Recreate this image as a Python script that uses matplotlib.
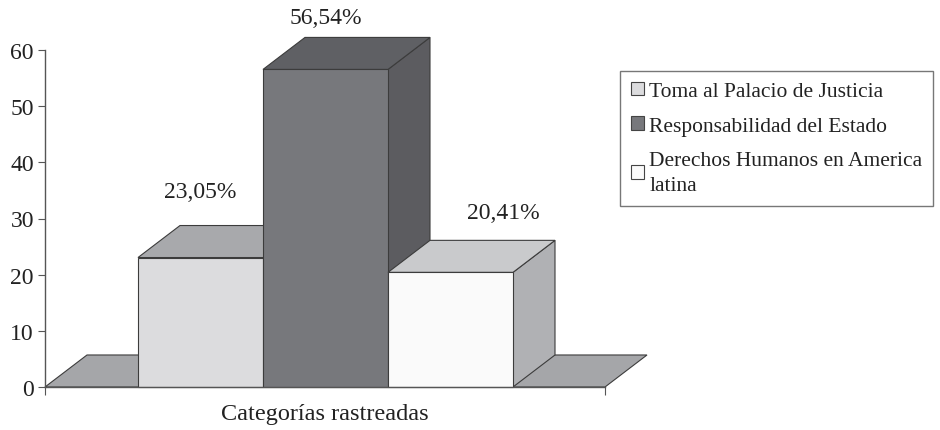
import matplotlib.pyplot as plt
from matplotlib.patches import Polygon, Patch

categories = ['Toma al Palacio de Justicia', 'Responsabilidad del Estado',
              'Derechos Humanos en America\nlatina']
values = [23.05, 56.54, 20.41]
value_labels = ['23,05%', '56,54%', '20,41%']
yticks = [0, 10, 20, 30, 40, 50, 60]

front_cols = ['#dcdcde', '#77787c', '#fafafa']
top_cols = ['#a8a9ac', '#5f6064', '#c9cacc']
side_cols = ['#a8a9ac', '#5c5c60', '#b0b1b4']
edge = '#3c3c3c'

plt.rcParams['font.family'] = ['Liberation Serif', 'DejaVu Serif']

fig = plt.figure(figsize=(9.4, 4.31), dpi=100)
ax = fig.add_axes([45 / 940, 43 / 431, 560 / 940, 337 / 431])

xmax = 4.48
x0 = 0.744        # left edge of first bar
dx, dy = 0.336, 5.7  # depth offset

ax.set_xlim(0, xmax)
ax.set_ylim(0, 60)

# floor
floor = Polygon([(0, 0), (xmax, 0), (xmax + dx, dy), (dx, dy)], closed=True,
                facecolor='#a5a6a9', edgecolor=edge, lw=0.8, clip_on=False, zorder=1)
ax.add_patch(floor)

lab_dx = [0, 0, 0.42]
lab_dy = [11.8, 9.3, 10.6]
for i, v in enumerate(values):
    l = x0 + i
    r = l + 1
    side = Polygon([(r, 0), (r + dx, dy), (r + dx, v + dy), (r, v)],
                   facecolor=side_cols[i], edgecolor=edge, lw=0.8, clip_on=False, zorder=2 + i)
    top = Polygon([(l, v), (r, v), (r + dx, v + dy), (l + dx, v + dy)],
                  facecolor=top_cols[i], edgecolor=edge, lw=0.8, clip_on=False, zorder=2 + i)
    front = Polygon([(l, 0), (r, 0), (r, v), (l, v)],
                    facecolor=front_cols[i], edgecolor=edge, lw=0.8, clip_on=False, zorder=2 + i)
    ax.add_patch(side)
    ax.add_patch(top)
    ax.add_patch(front)
    ax.text(l + 0.5 + lab_dx[i], v + lab_dy[i], value_labels[i], ha='center', va='center',
            fontsize=17, color='#222222', clip_on=False)

for s in ['top', 'right']:
    ax.spines[s].set_visible(False)
for s in ['left', 'bottom']:
    ax.spines[s].set_color('#555555')
    ax.spines[s].set_linewidth(1.0)
    ax.spines[s].set_zorder(10)

ax.set_yticks(yticks)
ax.set_xticks([0, xmax])
ax.set_xticklabels(['', ''])
ax.tick_params(axis='y', direction='out', length=5, color='#555555', labelsize=17,
               labelcolor='#222222', pad=3)
ax.tick_params(axis='x', direction='out', length=6, color='#555555')
ax.set_xlabel('Categorías rastreadas', fontsize=17.5, color='#222222', labelpad=2)

handles = [Patch(facecolor=front_cols[i], edgecolor='#444444', lw=0.8) for i in range(3)]
leg = fig.legend(handles, categories, loc='upper left', bbox_to_anchor=(620 / 940, 1 - 72 / 431),
                 fontsize=15.5, frameon=True, fancybox=False, edgecolor='#555555',
                 handlelength=0.6, handleheight=0.6, handletextpad=0.25, borderpad=0.5,
                 labelspacing=0.7, borderaxespad=0)
leg.get_frame().set_linewidth(1.0)
for t in leg.get_texts():
    t.set_color('#222222')
    t.set_linespacing(1.45)

fig.savefig('out.png', dpi=100)
